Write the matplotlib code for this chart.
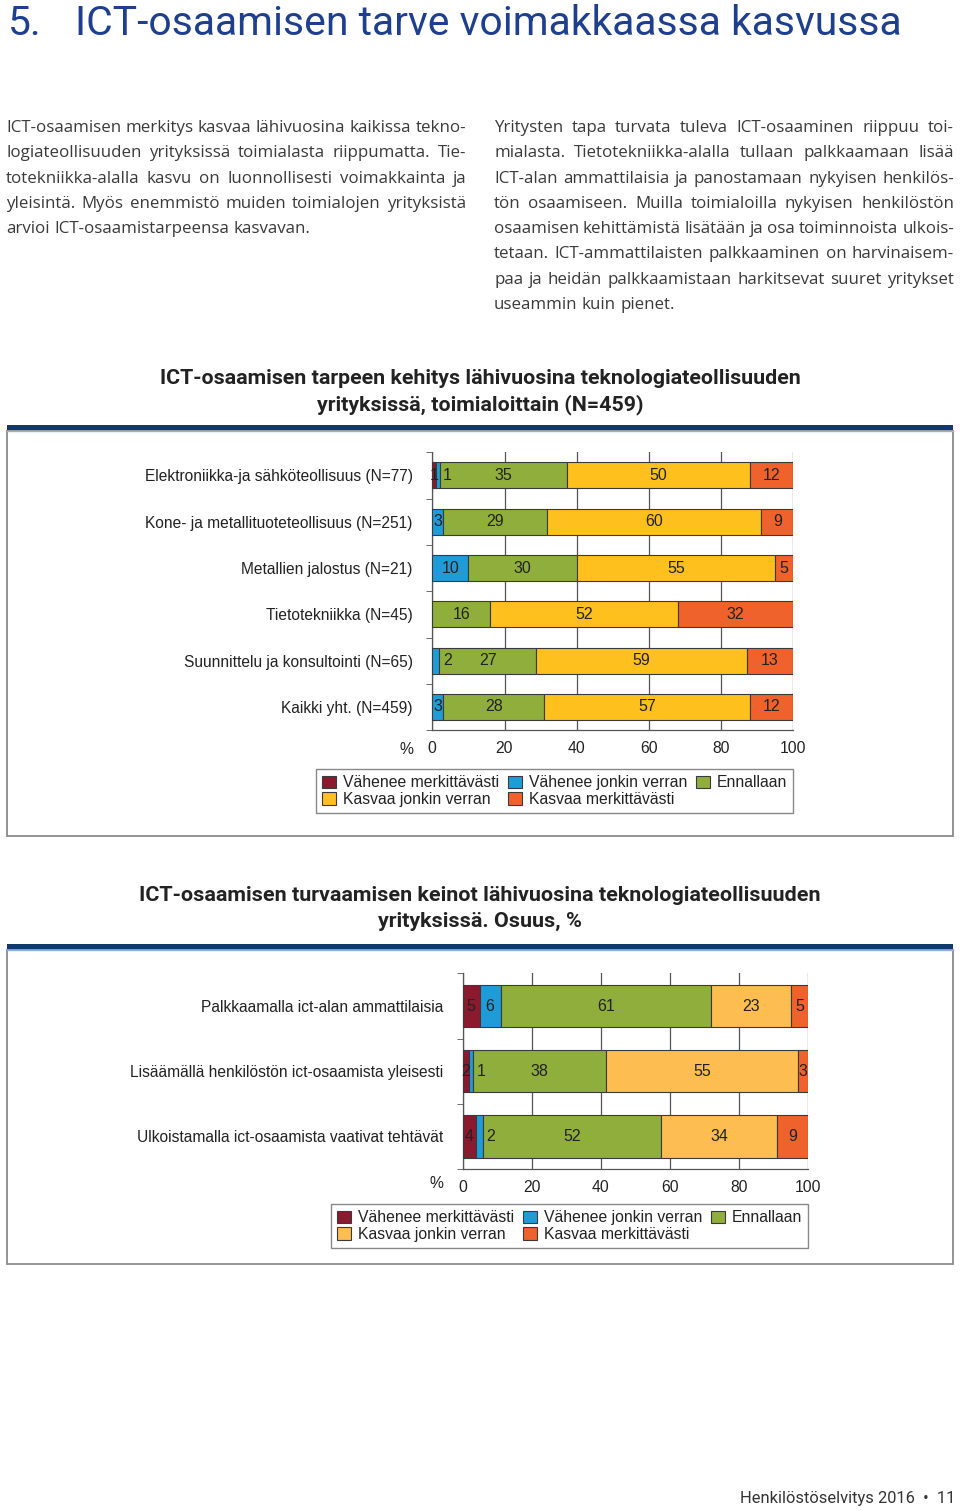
import numpy as np
import matplotlib
matplotlib.use('Agg')
import matplotlib.pyplot as plt
from matplotlib.patches import Rectangle, Patch
from matplotlib import font_manager as fm

# ---------------- data ----------------
series_names = ["Vähenee merkittävästi", "Vähenee jonkin verran", "Ennallaan",
                "Kasvaa jonkin verran", "Kasvaa merkittävästi"]

c1_categories = ["Elektroniikka-ja sähköteollisuus (N=77)",
                 "Kone- ja metallituoteteollisuus (N=251)",
                 "Metallien jalostus (N=21)",
                 "Tietotekniikka (N=45)",
                 "Suunnittelu ja konsultointi (N=65)",
                 "Kaikki yht. (N=459)"]
c1_vm = [1, 0, 0, 0, 0, 0]
c1_vj = [1, 3, 10, 0, 2, 3]
c1_e = [35, 29, 30, 16, 27, 28]
c1_kj = [50, 60, 55, 52, 59, 57]
c1_km = [12, 9, 5, 32, 13, 12]

c2_categories = ["Palkkaamalla ict-alan ammattilaisia",
                 "Lisäämällä henkilöstön ict-osaamista yleisesti",
                 "Ulkoistamalla ict-osaamista vaativat tehtävät"]
c2_vm = [5, 2, 4]
c2_vj = [6, 1, 2]
c2_e = [61, 38, 52]
c2_kj = [23, 55, 34]
c2_km = [5, 3, 9]

x_ticks = [0, 20, 40, 60, 80, 100]

page_title_num = "5."
page_title = "ICT-osaamisen tarve voimakkaassa kasvussa"
left_lines = ["ICT-osaamisen merkitys kasvaa lähivuosina kaikissa tekno-",
              "logiateollisuuden yrityksissä toimialasta riippumatta. Tie-",
              "totekniikka-alalla kasvu on luonnollisesti voimakkainta ja",
              "yleisintä. Myös enemmistö muiden toimialojen yrityksistä",
              "arvioi ICT-osaamistarpeensa kasvavan."]
right_lines = ["Yritysten tapa turvata tuleva ICT-osaaminen riippuu toi-",
               "mialasta. Tietotekniikka-alalla tullaan palkkaamaan lisää",
               "ICT-alan ammattilaisia ja panostamaan nykyisen henkilös-",
               "tön osaamiseen. Muilla toimialoilla nykyisen henkilöstön",
               "osaamisen kehittämistä lisätään ja osa toiminnoista ulkois-",
               "tetaan. ICT-ammattilaisten palkkaaminen on harvinaisem-",
               "paa ja heidän palkkaamistaan harkitsevat suuret yritykset",
               "useammin kuin pienet."]
chart1_title = ["ICT-osaamisen tarpeen kehitys lähivuosina teknologiateollisuuden",
                "yrityksissä, toimialoittain (N=459)"]
chart2_title = ["ICT-osaamisen turvaamisen keinot lähivuosina teknologiateollisuuden",
                "yrityksissä. Osuus, %"]
footer = "Henkilöstöselvitys 2016  •  11"

c1_colors = ["#8c1a2e", "#1f9bd7", "#8fae3c", "#fdc01c", "#f0622b"]
c2_colors = ["#8c1a2e", "#1f9bd7", "#8fae3c", "#fdbd50", "#f0622b"]

# ---------------- fonts ----------------
def have(fam):
    try:
        fm.findfont(fm.FontProperties(family=fam), fallback_to_default=False)
        return True
    except Exception:
        return False

NARROW = "Liberation Sans Narrow" if have("Liberation Sans Narrow") else "Roboto"
BODY = "Open Sans" if have("Open Sans") else "DejaVu Sans"
ARIAL = "Liberation Sans"

W, H = 960, 1511
fig = plt.figure(figsize=(W / 100, H / 100), dpi=100)
bg = fig.add_axes([0, 0, 1, 1])
bg.set_xlim(0, W)
bg.set_ylim(H, 0)
bg.axis('off')
renderer = fig.canvas.get_renderer()


def width_of(t):
    return t.get_window_extent(renderer).width


def fit_text(x, y, s, width, ha='left', base=20, **kw):
    t = bg.text(x, y, s, ha=ha, va='baseline', fontsize=base, **kw)
    fs = base * width / width_of(t)
    t.set_fontsize(fs)
    return t, fs


# page title
TITLE_BLUE = "#1e3f8e"
_, tfs = fit_text(75, 35, page_title, 827, family=NARROW, color=TITLE_BLUE)
bg.text(8, 35, page_title_num, ha='left', va='baseline', fontsize=tfs,
        family=NARROW, color=TITLE_BLUE)


# body text justified
def body_fontsize(lines, width):
    base = 12
    m = 0
    for ln in lines:
        t = bg.text(0, 0, ln, fontsize=base, family=BODY)
        m = max(m, width_of(t))
        t.remove()
    return base * width / m


def justify(lines, x0, x1, y0, dy, fs, color):
    sp = bg.text(0, 0, "a a", fontsize=fs, family=BODY)
    aa = bg.text(0, 0, "aa", fontsize=fs, family=BODY)
    space = width_of(sp) - width_of(aa)
    sp.remove(); aa.remove()
    for li, ln in enumerate(lines):
        y = y0 + li * dy
        words = ln.split(' ')
        ts = [bg.text(0, y, w, fontsize=fs, family=BODY, color=color,
                      ha='left', va='baseline') for w in words]
        ws = [width_of(t) for t in ts]
        last = (li == len(lines) - 1)
        gap = space if last or len(words) == 1 else (x1 - x0 - sum(ws)) / (len(words) - 1)
        x = x0
        for t, w in zip(ts, ws):
            t.set_x(x)
            x += w + gap


bfs = min(body_fontsize(left_lines, 457), body_fontsize(right_lines, 457))
justify(left_lines, 6, 466, 132, 25.3, bfs, "#3a3a3a")
justify(right_lines, 494, 954, 132, 25.3, bfs, "#3a3a3a")

# chart titles
_, c1fs = fit_text(480, 384, chart1_title[0], 640, ha='center', family=NARROW,
                   weight='bold', color="#222222")
bg.text(480, 410, chart1_title[1], ha='center', va='baseline', fontsize=c1fs,
        family=NARROW, weight='bold', color="#222222")
_, c2fs = fit_text(480, 901, chart2_title[0], 678, ha='center', family=NARROW,
                   weight='bold', color="#222222")
bg.text(480, 927, chart2_title[1], ha='center', va='baseline', fontsize=c2fs,
        family=NARROW, weight='bold', color="#222222")

# bands and frames
for band_top, frame_bot in [(424.5, 836), (943.5, 1264)]:
    bg.add_patch(Rectangle((7, band_top), 946, 5.5, facecolor="#0c3a6d",
                           edgecolor='none'))
    bg.plot([7, 953], [band_top + 6, band_top + 6], color="#8fb2d6", lw=1)
    bg.add_patch(Rectangle((7, band_top + 6), 946, frame_bot - band_top - 6,
                           fill=False, edgecolor="#8a8a8a", lw=1.3))

# footer
fit_text(955, 1503, footer, 215, ha='right', family=NARROW, color="#333333")


# ---------------- charts ----------------
def chart(px, cats, series, colors, bar_h, pct_xy, legend_xy):
    l, r, t, b = px
    ax = fig.add_axes([l / W, 1 - b / H, (r - l) / W, (b - t) / H])
    data = np.array(series, dtype=float)
    n = data.shape[1]
    norm = data / data.sum(axis=0) * 100
    y = np.arange(n)
    left = np.zeros(n)
    handles = []
    for k in range(data.shape[0]):
        ax.barh(y, norm[k], left=left, height=bar_h, color=colors[k],
                edgecolor="#3a3a3a", linewidth=0.8, zorder=3)
        handles.append(Patch(facecolor=colors[k], edgecolor="#3a3a3a",
                             linewidth=0.8, label=series_names[k]))
        for i in range(n):
            v = data[k, i]
            if v <= 0:
                continue
            if k == 1 and v <= 2:
                ax.annotate(f"{v:g}", (left[i] + norm[k, i], y[i]),
                            xytext=(2.5, 0), textcoords='offset points',
                            ha='left', va='center', fontsize=11.5,
                            family=ARIAL, color="#222222", zorder=4)
            else:
                ax.text(left[i] + norm[k, i] / 2, y[i], f"{v:g}",
                        ha='center', va='center', fontsize=11.5,
                        family=ARIAL, color="#222222", zorder=4)
        left += norm[k]
    ax.set_xlim(0, 100)
    ax.set_ylim(n - 0.5, -0.5)
    ax.set_xticks(x_ticks)
    ax.set_xticklabels([str(v) for v in x_ticks], family=ARIAL, fontsize=11.3,
                       color="#222222")
    ax.set_yticks(y)
    ax.set_yticklabels(cats, family=ARIAL, fontsize=11.2, color="#222222")
    ax.set_yticks(np.arange(-0.5, n, 1), minor=True)
    ax.tick_params(axis='y', which='major', length=0, pad=14)
    ax.tick_params(axis='y', which='minor', length=4, color="#555555",
                   direction='out')
    ax.tick_params(axis='x', length=0, pad=8)
    ax.grid(axis='x', color="#555555", linewidth=0.9)
    ax.set_axisbelow(True)
    for s in ['top', 'right']:
        ax.spines[s].set_visible(False)
    for s in ['left', 'bottom']:
        ax.spines[s].set_color("#555555")
        ax.spines[s].set_linewidth(0.9)
    # % label
    fig.text(pct_xy[0] / W, 1 - pct_xy[1] / H, "%", family=ARIAL, fontsize=11.3,
             color="#222222", ha='left', va='center')
    order = [0, 3, 1, 4, 2]
    leg = fig.legend([handles[i] for i in order],
                     [series_names[i] for i in order],
                     loc='upper left',
                     bbox_to_anchor=(legend_xy[0] / W, 1 - legend_xy[1] / H),
                     bbox_transform=fig.transFigure, ncol=3, frameon=True,
                     fancybox=False, edgecolor="#888888", framealpha=1,
                     borderaxespad=0, prop={'family': ARIAL, 'size': 11.3},
                     handlelength=0.85, handleheight=0.85, handletextpad=0.45,
                     columnspacing=0.6, labelspacing=0.1, borderpad=0.4)
    leg.get_frame().set_linewidth(1.0)
    for txt in leg.get_texts():
        txt.set_color("#222222")
    return ax


chart((432.3, 793.3, 452.3, 730.1), c1_categories,
      [c1_vm, c1_vj, c1_e, c1_kj, c1_km], c1_colors, 0.56, (399, 749), (316, 769))
chart((462.5, 808.3, 973.4, 1169.1), c2_categories,
      [c2_vm, c2_vj, c2_e, c2_kj, c2_km], c2_colors, 0.646, (430, 1183), (331, 1204))

fig.savefig("out.png", dpi=100, facecolor='white')
